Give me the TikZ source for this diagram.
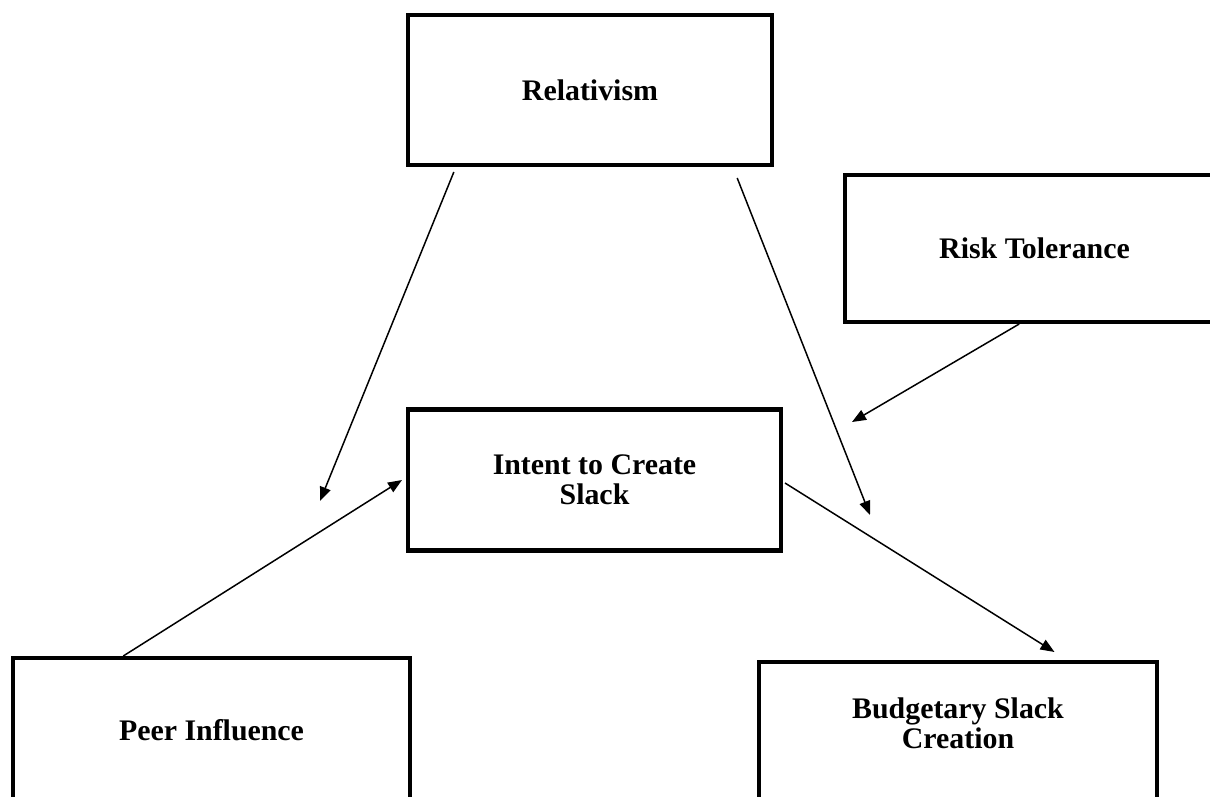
\documentclass[tikz,border=0pt]{standalone}
\usepackage{fontspec}
\setmainfont{Liberation Serif}
\usepackage{tikz}
\usetikzlibrary{arrows.meta,calc}

\begin{document}
\begin{tikzpicture}[
  x=0.02cm, y=-0.02cm,
  box/.style={draw=black, line width=2.3pt, fill=white, align=center, inner sep=0pt, font=\bfseries\fontsize{17}{16.8}\selectfont},
  link/.style={draw=black, line width=0.85pt, -{Triangle[length=0.28cm, width=0.22cm]}}
]
\clip (0,0) rectangle (1210,797);
% Boxes
\node[box, minimum width=7.28cm, minimum height=3.0cm]  (relativism) at (590,90)     {Relativism};
\node[box, minimum width=7.58cm, minimum height=2.94cm] (risk)       at (1034.5,248.5) {Risk Tolerance};
\node[box, minimum width=7.46cm, minimum height=2.82cm] (intent)     at (594.5,480)  {Intent to Create\\Slack};
\node[box, minimum width=7.94cm, minimum height=2.88cm] (peer)       at (211.5,730)  {Peer Influence};
\node[box, minimum width=7.96cm, minimum height=2.94cm, text depth=0.5cm] (budget) at (958,735.5) {Budgetary Slack\\Creation};
% Free ends
\coordinate (relend)  at (320,501);
\coordinate (relend2) at (870,515);
\coordinate (riskend) at (852,422);
% Arrows
\draw[link] ($(relativism.south west)!0.13!(relativism.south east)+(0,5)$) -- (relend);
\draw[link] ($(relativism.south west)!0.90!(relativism.south east)+(0,11)$) -- (relend2);
\draw[link] ($(risk.south west)!0.46!(risk.south east)$) -- (riskend);
\draw[link] ($(peer.north west)!0.28!(peer.north east)$) -- ($(intent.west)+(-4,0)$);
\draw[link] ($(intent.east)+(2,3)$) -- ($(budget.north west)!0.74!(budget.north east)+(0,-8)$);
\end{tikzpicture}
\end{document}
